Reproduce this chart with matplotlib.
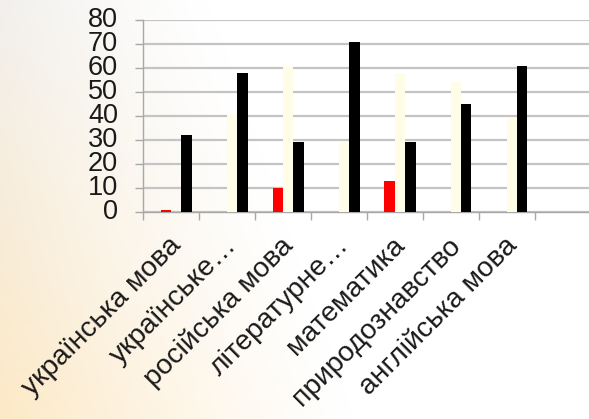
import matplotlib
matplotlib.use("Agg")
import matplotlib.pyplot as plt
import matplotlib.transforms as mtrans
import numpy as np

# categories and series
subjects = ["українська мова", "українське…", "російська мова", "літературне…",
            "математика", "природознавство", "англійська мова"]
red_vals = [0.8, 0, 10, 0, 13, 0, 0]
cream_vals = [0, 41, 61, 29, 58, 54, 39]
black_vals = [32, 58, 29, 71, 29, 45, 61]
y_ticks = list(range(0, 81, 10))

plt.rcParams['font.family'] = ['Liberation Sans', 'DejaVu Sans']

fig = plt.figure(figsize=(5.89, 4.19), dpi=100)

# background gradient: greyish top-left, peach bottom-left, white to the right
bg = fig.add_axes([0, 0, 1, 1], zorder=-1)
xx = np.linspace(0, 1, 300)
yy = np.linspace(0, 1, 200)  # 0 = top, 1 = bottom
X, Y = np.meshgrid(xx, yy)
grey = np.array([242, 240, 237]) / 255
peach = np.array([253, 233, 198]) / 255
white = np.array([255, 255, 255]) / 255
edge = grey[None, None, :] * (1 - Y[..., None]) + peach[None, None, :] * Y[..., None]
reach = 0.35 + 0.25 * Y
t = np.clip(1 - X / reach, 0, 1) ** 1.2
img = white[None, None, :] * (1 - t[..., None]) + edge * t[..., None]
bg.imshow(img, aspect='auto', extent=[0, 1, 0, 1], origin='upper')
bg.axis('off')

ax = fig.add_axes([0.2428, 0.494, 0.76, 0.458])
ax.set_facecolor('none')

x = np.arange(len(subjects)) + 0.5
w = 0.185
ax.bar(x - 0.5 * w, red_vals, w, color='#ff0000', zorder=3)
ax.bar(x + 0.5 * w, cream_vals, w, color='#fffce8', zorder=3)
ax.bar(x + 1.5 * w, black_vals, w, color='#000000', zorder=3)

ax.set_xlim(0, 8)
ax.set_ylim(0, 80)
ax.set_yticks(y_ticks)
ax.set_yticklabels([])
ax.yaxis.grid(True, color='#c4c4c4', linewidth=1.6, zorder=0)
ax.set_axisbelow(True)

ax.set_xticks(range(0, 8))
ax.set_xticklabels([])

# y labels, set well away from the axis
yoff = mtrans.ScaledTranslation(-25 / 100, 0, fig.dpi_scale_trans)
for v in y_ticks:
    ax.text(0, v, str(v), transform=ax.get_yaxis_transform() + yoff,
            ha='right', va='center', fontsize=19.5, color='#1a1a1a', clip_on=False)

# rotated category labels
off = mtrans.ScaledTranslation(-2 / 72, -14.7 / 72, fig.dpi_scale_trans)
for xi, name in zip(x, subjects):
    ax.text(xi, 0, name, transform=ax.transData + off, rotation=45,
            ha='right', va='top', rotation_mode='anchor', fontsize=20.3,
            color='#1a1a1a', clip_on=False)

ax.tick_params(axis='x', length=6, color='#a8a8a8', width=1)
ax.tick_params(axis='y', length=6, color='#a8a8a8', width=1)

for s in ['top', 'right']:
    ax.spines[s].set_visible(False)
for s in ['left', 'bottom']:
    ax.spines[s].set_color('#a8a8a8')
    ax.spines[s].set_linewidth(1)

fig.savefig('out.png', dpi=100)
